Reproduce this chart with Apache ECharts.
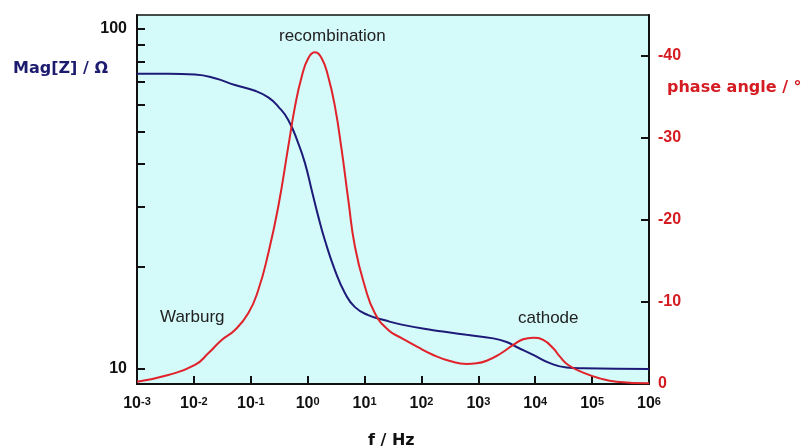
<!DOCTYPE html>
<html>
<head>
<meta charset="utf-8">
<script src="https://cdn.jsdelivr.net/npm/echarts@6/dist/echarts.min.js"></script>
<style>
  html, body { margin: 0; padding: 0; background: #ffffff; }
  #chart { width: 803px; height: 446px; }
</style>
</head>
<body>
<div id="chart"></div>
<script>
// Bode plot: impedance magnitude and phase angle vs frequency
const freqMag = [0.001, 0.00355, 0.01044, 0.0235, 0.0527, 0.1185, 0.203, 0.304, 0.456, 0.684, 0.897, 1.175, 1.535, 2.01, 3.02, 4.53, 6.78, 11.6, 22.8, 44.9, 161, 316, 622, 1828, 3140, 4710, 9220, 18110, 35600, 69700, 1000000];
const mag = [73.8, 73.8, 73.4, 71.6, 68.4, 65.8, 62.9, 59.1, 54.0, 46.1, 40.3, 33.6, 28.1, 23.9, 19.5, 16.7, 15.2, 14.4, 13.9, 13.5, 13.0, 12.8, 12.6, 12.3, 12.0, 11.6, 11.0, 10.4, 10.1, 10.05, 10.0];

const freqPhase = [0.001, 0.00355, 0.01044, 0.0179, 0.0308, 0.0527, 0.0903, 0.1355, 0.203, 0.304, 0.456, 0.598, 0.785, 1.024, 1.343, 1.762, 2.30, 3.02, 3.96, 5.18, 6.78, 10.16, 15.2, 26.1, 44.9, 83.4, 161, 317, 622, 933, 1400, 2399, 4106, 6150, 9220, 13800, 20700, 27200, 38000, 69700, 137000, 269000, 1000000];
const phase = [-0.28, -1.10, -2.32, -3.74, -5.37, -6.59, -8.62, -11.46, -15.94, -21.62, -28.94, -33.82, -37.48, -39.72, -40.45, -39.72, -37.48, -33.82, -28.54, -22.44, -16.74, -11.87, -8.62, -6.59, -5.6, -4.55, -3.54, -2.80, -2.44, -2.52, -2.84, -3.66, -4.76, -5.45, -5.65, -5.37, -4.35, -3.33, -2.32, -1.38, -0.69, -0.28, -0.08];

// Axis ticks and labels
const magLabelValues = [10, 100];
const magTickValues = [10, 20, 30, 40, 50, 60, 70, 80, 90, 100];
const phaseTickValues = [-40, -30, -20, -10, 0];

// Region annotations
const annotations = [
  { text: 'recombination', x: 279, y: 36 },
  { text: 'Warburg', x: 160, y: 317 },
  { text: 'cathode', x: 518, y: 318 }
];

const NAVY = '#1d1b77';
const RED = '#e0222a';
const RED_TEXT = '#d41c22';

const chart = echarts.init(document.getElementById('chart'), null, { renderer: 'canvas' });

const option = {
  animation: false,
  backgroundColor: '#ffffff',
  grid: {
    left: 137, right: 154, top: 15, bottom: 62,
    outerBoundsMode: 'none',
    containLabel: false,
    show: true,
    backgroundColor: '#d4fafa',
    borderColor: '#111111',
    borderWidth: 1.5
  },
  xAxis: {
    type: 'log',
    logBase: 10,
    min: 0.001,
    max: 1000000,
    interval: 1,
    axisLine: { show: true, onZero: false, lineStyle: { color: '#111111', width: 2 } },
    axisTick: { show: true, inside: true, length: 8, lineStyle: { color: '#111111', width: 2 } },
    splitLine: { show: false },
    minorTick: { show: false },
    axisLabel: {
      show: true,
      margin: 12,
      showMinLabel: true,
      showMaxLabel: true,
      formatter: function (v) {
        const e = Math.round(Math.log10(v));
        return '{b|10}{s|' + e + '}';
      },
      rich: {
        b: { fontFamily: 'Liberation Sans', fontWeight: 'bold', fontSize: 16, color: '#111111', lineHeight: 16 },
        s: { fontFamily: 'Liberation Sans', fontWeight: 'bold', fontSize: 11, color: '#111111', lineHeight: 9, verticalAlign: 'top' }
      }
    }
  },
  yAxis: [
    {
      type: 'log',
      logBase: 10,
      position: 'left',
      min: 9.03,
      max: 109.9,
      axisLine: { show: true, onZero: false, lineStyle: { color: '#111111', width: 2 } },
      axisTick: { show: true, inside: true, length: 8, customValues: magTickValues, lineStyle: { color: '#111111', width: 2 } },
      splitLine: { show: false },
      minorTick: { show: false },
      axisLabel: {
        show: true,
        margin: 10,
        customValues: magLabelValues,
        fontFamily: 'Liberation Sans',
        fontWeight: 'bold',
        fontSize: 16,
        color: '#111111'
      }
    },
    {
      type: 'value',
      position: 'right',
      min: -45,
      max: 0,
      inverse: true,
      axisLine: { show: true, onZero: false, lineStyle: { color: '#111111', width: 2 } },
      axisTick: { show: true, inside: true, length: 8, customValues: phaseTickValues, lineStyle: { color: '#111111', width: 2 } },
      splitLine: { show: false },
      axisLabel: {
        show: true,
        margin: 9,
        customValues: phaseTickValues,
        fontFamily: 'Liberation Sans',
        fontWeight: 'bold',
        fontSize: 16,
        color: RED_TEXT,
        formatter: function (v) { return String(v); }
      }
    }
  ],
  series: [
    {
      name: 'Mag[Z]',
      type: 'line',
      xAxisIndex: 0,
      yAxisIndex: 0,
      data: freqMag.map((f, i) => [f, mag[i]]),
      smooth: 0.5,
      showSymbol: false,
      symbol: 'none',
      lineStyle: { color: NAVY, width: 2 },
      z: 2
    },
    {
      name: 'phase angle',
      type: 'line',
      xAxisIndex: 0,
      yAxisIndex: 1,
      data: freqPhase.map((f, i) => [f, phase[i]]),
      smooth: 0.5,
      showSymbol: false,
      symbol: 'none',
      lineStyle: { color: RED, width: 2 },
      z: 3
    }
  ],
  graphic: [
    {
      type: 'text', left: 13, top: 61,
      style: { text: 'Mag[Z] / Ω', fontFamily: 'DejaVu Sans', fontWeight: 'bold', fontSize: 16, fill: '#1c1b6e' }
    },
    {
      type: 'text', left: 667, top: 80,
      style: { text: 'phase angle / °', fontFamily: 'DejaVu Sans', fontWeight: 'bold', fontSize: 16, fill: RED_TEXT }
    },
    {
      type: 'text', left: 368, top: 433,
      style: { text: 'f / Hz', fontFamily: 'DejaVu Sans', fontWeight: 'bold', fontSize: 16, fill: '#111111' }
    }
  ].concat(annotations.map(a => ({
    type: 'text', x: a.x, y: a.y,
    style: { text: a.text, fontFamily: 'Liberation Sans', fontSize: 17, fill: '#222222', verticalAlign: 'middle', align: 'left' },
    z: 10
  })))
};

chart.setOption(option);
</script>
</body>
</html>
